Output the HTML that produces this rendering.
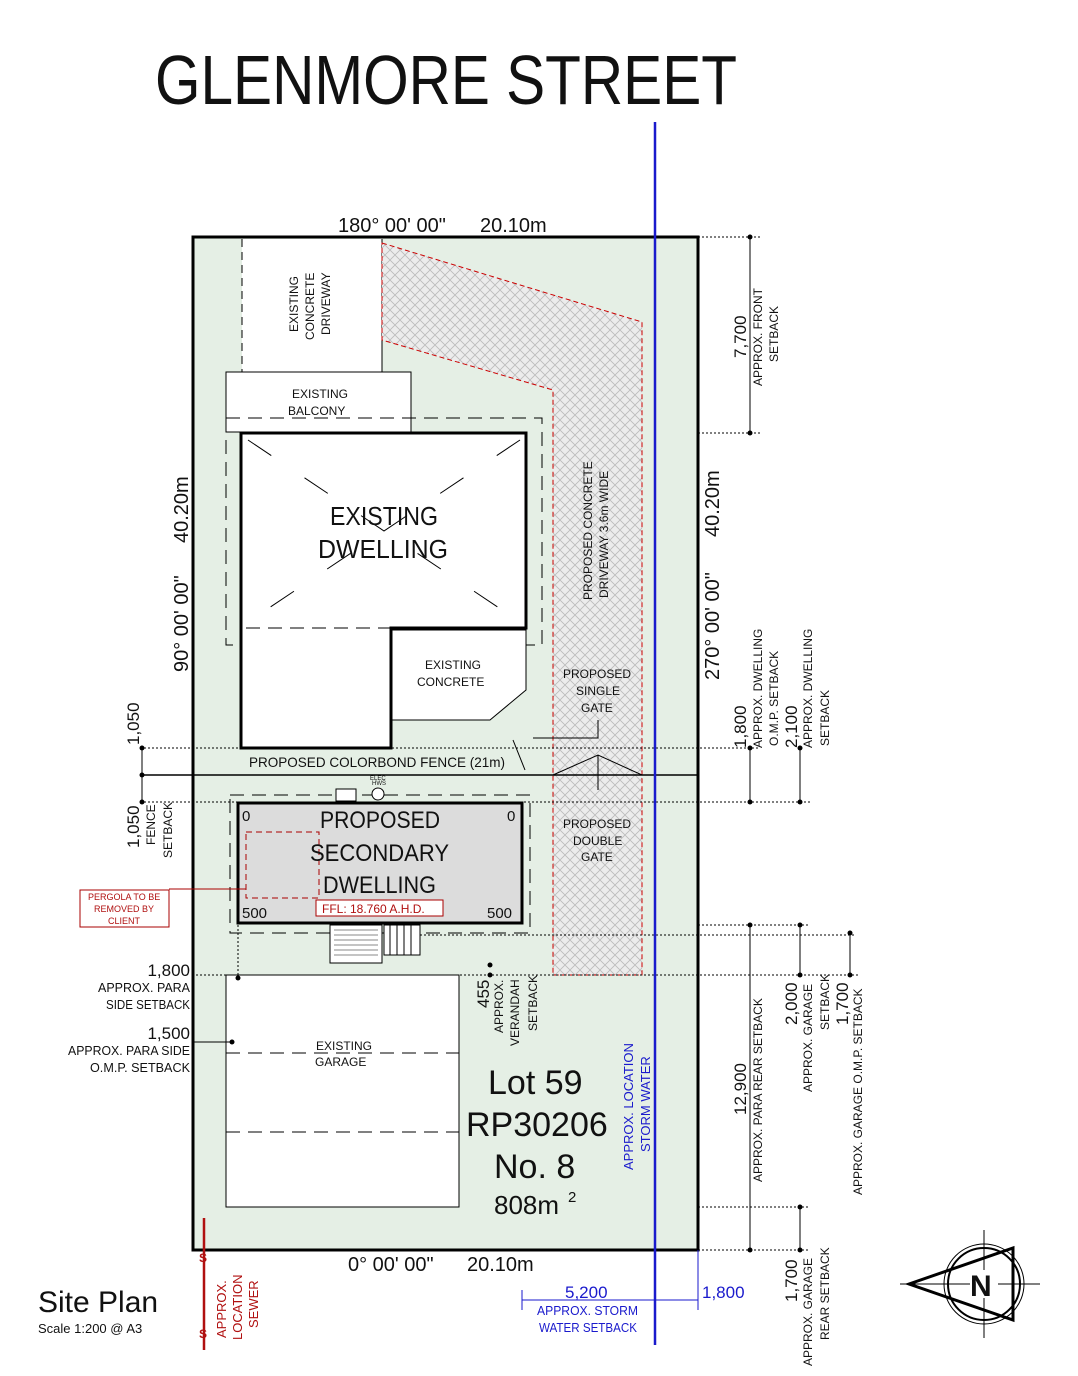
<!DOCTYPE html>
<html><head><meta charset="utf-8"><style>
html,body{margin:0;padding:0;background:#fff}
svg{display:block}
text{font-family:"Liberation Sans",sans-serif;fill:#111}
.b{fill:#1a1acc}
.r{fill:#b01010}
</style></head><body>
<svg width="1078" height="1376" viewBox="0 0 1078 1376" xmlns="http://www.w3.org/2000/svg">
<defs>
<pattern id="h" width="10" height="10" patternUnits="userSpaceOnUse">
<rect width="10" height="10" fill="#ececec"/>
<path d="M0 0L10 10M10 0L0 10" stroke="#bbb" stroke-width="0.8"/>
</pattern>
</defs>
<text x="155" y="104" font-size="70" textLength="582" lengthAdjust="spacingAndGlyphs">GLENMORE STREET</text>

<rect x="193" y="237" width="505" height="1013" fill="#e5efe5" stroke="#000" stroke-width="3"/>
<rect x="242" y="239" width="140" height="133" fill="#fff"/>
<line x1="242" y1="239" x2="242" y2="372" stroke="#000" stroke-dasharray="8,5"/>
<line x1="382" y1="239" x2="382" y2="372" stroke="#000" stroke-width="1"/>
<text transform="translate(298,332) rotate(-90)" font-size="12">EXISTING</text>
<text transform="translate(314,340) rotate(-90)" font-size="12">CONCRETE</text>
<text transform="translate(330,335) rotate(-90)" font-size="12">DRIVEWAY</text>
<polygon points="382,243 642,322 642,975 553,975 553,390 382,340" fill="url(#h)" stroke="#c00" stroke-dasharray="5,3"/>
<text transform="translate(592,600) rotate(-90)" font-size="12">PROPOSED CONCRETE</text>
<text transform="translate(608,598) rotate(-90)" font-size="12">DRIVEWAY 3.6m WIDE</text>
<rect x="226" y="372" width="185" height="60" fill="#fff" stroke="#000"/>
<text x="292" y="398" font-size="12">EXISTING</text>
<text x="288" y="415" font-size="12">BALCONY</text>
<polyline points="226,418 542,418 542,645 526,645" fill="none" stroke="#000" stroke-dasharray="14,8"/>
<polyline points="226,418 226,645 241,645" fill="none" stroke="#000" stroke-dasharray="14,8"/>
<polygon points="241,433 526,433 526,628 391,628 391,748 241,748" fill="#fff" stroke="#000" stroke-width="3"/>
<path d="M248 440L520 622M520 440L248 622" stroke="#000" stroke-dasharray="28,40"/>
<polyline points="241,645 241,628 526,628" fill="none" stroke="#000" stroke-dasharray="14,8"/>
<text x="330" y="525" font-size="26" textLength="108" lengthAdjust="spacingAndGlyphs">EXISTING</text>
<text x="318" y="558" font-size="26" textLength="130" lengthAdjust="spacingAndGlyphs">DWELLING</text>
<polygon points="392,630 526,630 526,690 490,720 392,720" fill="#fff" stroke="#000" stroke-width="1"/>
<text x="425" y="669" font-size="12">EXISTING</text>
<text x="417" y="686" font-size="12">CONCRETE</text>
<text x="563" y="678" font-size="12">PROPOSED</text>
<text x="576" y="695" font-size="12">SINGLE</text>
<text x="581" y="712" font-size="12">GATE</text>
<polyline points="598,720 598,738 533,738" fill="none" stroke="#000"/>
<path d="M513 740L525 770M553 775L598 755L642 775M598 755L598 790" fill="none" stroke="#000"/>
<text x="563" y="828" font-size="12">PROPOSED</text>
<text x="573" y="845" font-size="12">DOUBLE</text>
<text x="581" y="861" font-size="12">GATE</text>
<line x1="140" y1="748" x2="760" y2="748" stroke="#000" stroke-dasharray="2,2"/>
<line x1="140" y1="775" x2="698" y2="775" stroke="#000" stroke-width="1.5"/>
<line x1="140" y1="802" x2="810" y2="802" stroke="#000" stroke-dasharray="2,2"/>
<text x="249" y="767" font-size="14" textLength="256" lengthAdjust="spacingAndGlyphs">PROPOSED COLORBOND FENCE (21m)</text>
<line x1="142" y1="748" x2="142" y2="802" stroke="#000"/>
<circle cx="142" cy="748" r="2.5"/><circle cx="142" cy="775" r="2.5"/><circle cx="142" cy="802" r="2.5"/>
<text transform="translate(139,745) rotate(-90)" font-size="17">1,050</text>
<text transform="translate(139,848) rotate(-90)" font-size="17">1,050</text>
<text transform="translate(155,845) rotate(-90)" font-size="12">FENCE</text>
<text transform="translate(172,858) rotate(-90)" font-size="12">SETBACK</text>
<rect x="230" y="795" width="300" height="138" fill="none" stroke="#000" stroke-dasharray="14,8"/>
<rect x="336" y="789" width="20" height="12" fill="#fff" stroke="#000"/>
<circle cx="378" cy="794" r="6" fill="#fff" stroke="#000"/>
<text x="370" y="780" font-size="6">ELEC</text><text x="372" y="785" font-size="6">HWS</text>
<rect x="238" y="803" width="284" height="120" fill="#dcdcdc" stroke="#000" stroke-width="3"/>
<rect x="246" y="832" width="73" height="66" fill="none" stroke="#a00" stroke-dasharray="6,4"/>
<text x="320" y="828" font-size="24" textLength="120" lengthAdjust="spacingAndGlyphs">PROPOSED</text>
<text x="310" y="861" font-size="24" textLength="139" lengthAdjust="spacingAndGlyphs">SECONDARY</text>
<text x="323" y="893" font-size="24" textLength="113" lengthAdjust="spacingAndGlyphs">DWELLING</text>
<text x="242" y="821" font-size="15">0</text><text x="507" y="821" font-size="15">0</text>
<text x="242" y="918" font-size="15">500</text><text x="487" y="918" font-size="15">500</text>
<rect x="316" y="900" width="127" height="16" fill="#fff" stroke="#a00"/>
<text x="322" y="913" font-size="12" class="r">FFL: 18.760 A.H.D.</text>
<rect x="330" y="925" width="52" height="38" fill="#fff" stroke="#000"/>
<path d="M334 930H378M334 935H378M334 940H378M334 945H378M334 950H378M334 955H378" stroke="#888"/>
<rect x="384" y="925" width="36" height="30" fill="#fff" stroke="#000"/>
<path d="M390 925V955M397 925V955M404 925V955M411 925V955" stroke="#000"/>
<line x1="420" y1="935" x2="855" y2="935" stroke="#000" stroke-dasharray="2,2"/>
<line x1="238" y1="925" x2="238" y2="975" stroke="#000" stroke-dasharray="2,2"/>
<rect x="80" y="890" width="89" height="37" fill="#fff" stroke="#a00"/>
<text x="88" y="900" font-size="9" class="r">PERGOLA TO BE</text>
<text x="94" y="912" font-size="9" class="r">REMOVED BY</text>
<text x="108" y="924" font-size="9" class="r">CLIENT</text>
<line x1="169" y1="889" x2="246" y2="889" stroke="#a00"/>
<rect x="226" y="975" width="233" height="232" fill="#fff" stroke="#000"/>
<line x1="226" y1="1053" x2="459" y2="1053" stroke="#000" stroke-dasharray="14,8"/>
<line x1="226" y1="1132" x2="459" y2="1132" stroke="#000" stroke-dasharray="14,8"/>
<text x="316" y="1050" font-size="12">EXISTING</text>
<text x="315" y="1066" font-size="12">GARAGE</text>
<line x1="192" y1="975" x2="860" y2="975" stroke="#000" stroke-dasharray="2,2"/>
<line x1="192" y1="1042" x2="232" y2="1042" stroke="#000"/>
<circle cx="232" cy="1042" r="2.5"/><circle cx="238" cy="978" r="2.5"/><circle cx="490" cy="965" r="2.5"/><circle cx="490" cy="975" r="2.5"/>
<g text-anchor="end">
<text x="190" y="976" font-size="17">1,800</text>
<text x="190" y="992" font-size="13" textLength="92" lengthAdjust="spacingAndGlyphs">APPROX. PARA</text>
<text x="190" y="1009" font-size="13" textLength="84" lengthAdjust="spacingAndGlyphs">SIDE SETBACK</text>
<text x="190" y="1039" font-size="17">1,500</text>
<text x="190" y="1055" font-size="13" textLength="122" lengthAdjust="spacingAndGlyphs">APPROX. PARA SIDE</text>
<text x="190" y="1072" font-size="13" textLength="100" lengthAdjust="spacingAndGlyphs">O.M.P. SETBACK</text>
</g>
<text transform="translate(489,1008) rotate(-90)" font-size="17">455</text>
<text transform="translate(503,1033) rotate(-90)" font-size="12">APPROX.</text>
<text transform="translate(519,1046) rotate(-90)" font-size="12">VERANDAH</text>
<text transform="translate(537,1031) rotate(-90)" font-size="12">SETBACK</text>
<text x="488" y="1094" font-size="34">Lot 59</text>
<text x="466" y="1136" font-size="34">RP30206</text>
<text x="494" y="1178" font-size="34">No. 8</text>
<text x="494" y="1214" font-size="26">808m</text><text x="568" y="1202" font-size="15">2</text>
<line x1="655" y1="122" x2="655" y2="1345" stroke="#1a1acc" stroke-width="2.5"/>
<text transform="translate(633,1170) rotate(-90)" font-size="13" class="b">APPROX. LOCATION</text>
<text transform="translate(650,1152) rotate(-90)" font-size="13" class="b">STORM WATER</text>
<text x="338" y="232" font-size="20">180° 00' 00"</text>
<text x="480" y="232" font-size="20">20.10m</text>
<text x="348" y="1271" font-size="20">0° 00' 00"</text>
<text x="467" y="1271" font-size="20">20.10m</text>
<text transform="translate(188,672) rotate(-90)" font-size="20">90° 00' 00"</text>
<text transform="translate(188,543) rotate(-90)" font-size="20">40.20m</text>
<text transform="translate(719,680) rotate(-90)" font-size="20">270° 00' 00"</text>
<text transform="translate(719,537) rotate(-90)" font-size="20">40.20m</text>
<line x1="698" y1="237" x2="760" y2="237" stroke="#000" stroke-dasharray="2,2"/>
<line x1="698" y1="433" x2="760" y2="433" stroke="#000" stroke-dasharray="2,2"/>
<line x1="750" y1="237" x2="750" y2="433" stroke="#000"/>
<circle cx="750" cy="237" r="2.5"/><circle cx="750" cy="433" r="2.5"/>
<text transform="translate(746,358) rotate(-90)" font-size="17">7,700</text>
<text transform="translate(762,386) rotate(-90)" font-size="12">APPROX. FRONT</text>
<text transform="translate(778,362) rotate(-90)" font-size="12">SETBACK</text>
<line x1="750" y1="748" x2="750" y2="802" stroke="#000"/>
<line x1="800" y1="748" x2="800" y2="802" stroke="#000"/>
<circle cx="750" cy="748" r="2.5"/><circle cx="750" cy="802" r="2.5"/><circle cx="800" cy="748" r="2.5"/><circle cx="800" cy="802" r="2.5"/>
<text transform="translate(746,748) rotate(-90)" font-size="17">1,800</text>
<text transform="translate(762,748) rotate(-90)" font-size="12">APPROX. DWELLING</text>
<text transform="translate(778,746) rotate(-90)" font-size="12">O.M.P. SETBACK</text>
<text transform="translate(797,748) rotate(-90)" font-size="17">2,100</text>
<text transform="translate(812,748) rotate(-90)" font-size="12">APPROX. DWELLING</text>
<text transform="translate(829,746) rotate(-90)" font-size="12">SETBACK</text>
<line x1="698" y1="925" x2="810" y2="925" stroke="#000" stroke-dasharray="2,2"/>
<line x1="750" y1="925" x2="750" y2="1250" stroke="#000"/>
<line x1="800" y1="925" x2="800" y2="975" stroke="#000"/>
<line x1="850" y1="933" x2="850" y2="975" stroke="#000"/>
<circle cx="750" cy="925" r="2.5"/><circle cx="750" cy="1250" r="2.5"/><circle cx="800" cy="925" r="2.5"/><circle cx="800" cy="975" r="2.5"/><circle cx="850" cy="933" r="2.5"/><circle cx="850" cy="975" r="2.5"/>
<text transform="translate(746,1115) rotate(-90)" font-size="17">12,900</text>
<text transform="translate(762,1182) rotate(-90)" font-size="12">APPROX. PARA REAR SETBACK</text>
<text transform="translate(797,1025) rotate(-90)" font-size="17">2,000</text>
<text transform="translate(812,1092) rotate(-90)" font-size="12">APPROX. GARAGE</text>
<text transform="translate(829,1030) rotate(-90)" font-size="12">SETBACK</text>
<text transform="translate(848,1025) rotate(-90)" font-size="17">1,700</text>
<text transform="translate(862,1195) rotate(-90)" font-size="12">APPROX. GARAGE O.M.P. SETBACK</text>
<line x1="698" y1="1207" x2="810" y2="1207" stroke="#000" stroke-dasharray="2,2"/>
<line x1="800" y1="1207" x2="800" y2="1250" stroke="#000"/>
<line x1="698" y1="1250" x2="810" y2="1250" stroke="#000" stroke-dasharray="2,2"/>
<circle cx="800" cy="1207" r="2.5"/><circle cx="800" cy="1250" r="2.5"/>
<text transform="translate(797,1302) rotate(-90)" font-size="17">1,700</text>
<text transform="translate(812,1366) rotate(-90)" font-size="12">APPROX. GARAGE</text>
<text transform="translate(829,1340) rotate(-90)" font-size="12">REAR SETBACK</text>
<line x1="522" y1="1300" x2="698" y2="1300" stroke="#1a1acc"/>
<line x1="522" y1="1290" x2="522" y2="1310" stroke="#1a1acc"/>
<line x1="698" y1="1250" x2="698" y2="1310" stroke="#1a1acc"/>
<text x="565" y="1298" font-size="17" class="b">5,200</text>
<text x="537" y="1315" font-size="13" class="b" textLength="101" lengthAdjust="spacingAndGlyphs">APPROX. STORM</text>
<text x="539" y="1332" font-size="13" class="b" textLength="98" lengthAdjust="spacingAndGlyphs">WATER SETBACK</text>
<text x="702" y="1298" font-size="17" class="b">1,800</text>
<line x1="204" y1="1218" x2="204" y2="1350" stroke="#b01010" stroke-width="2.5"/>
<text x="199" y="1262" font-size="12" class="r" font-weight="bold">S</text>
<text x="199" y="1338" font-size="12" class="r" font-weight="bold">S</text>
<text transform="translate(226,1338) rotate(-90)" font-size="13" class="r">APPROX.</text>
<text transform="translate(242,1340) rotate(-90)" font-size="13" class="r">LOCATION</text>
<text transform="translate(258,1328) rotate(-90)" font-size="13" class="r">SEWER</text>
<text x="38" y="1312" font-size="30">Site Plan</text>
<text x="38" y="1333" font-size="13">Scale 1:200 @ A3</text>
<g stroke="#000" fill="none">
<line x1="900" y1="1284" x2="1040" y2="1284"/>
<line x1="984" y1="1230" x2="984" y2="1338"/>
<circle cx="984" cy="1284" r="40" stroke-width="1"/>
<circle cx="984" cy="1284" r="36" stroke-width="2"/>
<polygon points="909,1284 1013,1248 1013,1320" stroke-width="3"/>
</g>
<rect x="970" y="1270" width="28" height="28" fill="#fff"/>
<text x="970" y="1296" font-size="30" font-weight="bold" font-family="Liberation Serif">N</text>
</svg>
</body></html>
